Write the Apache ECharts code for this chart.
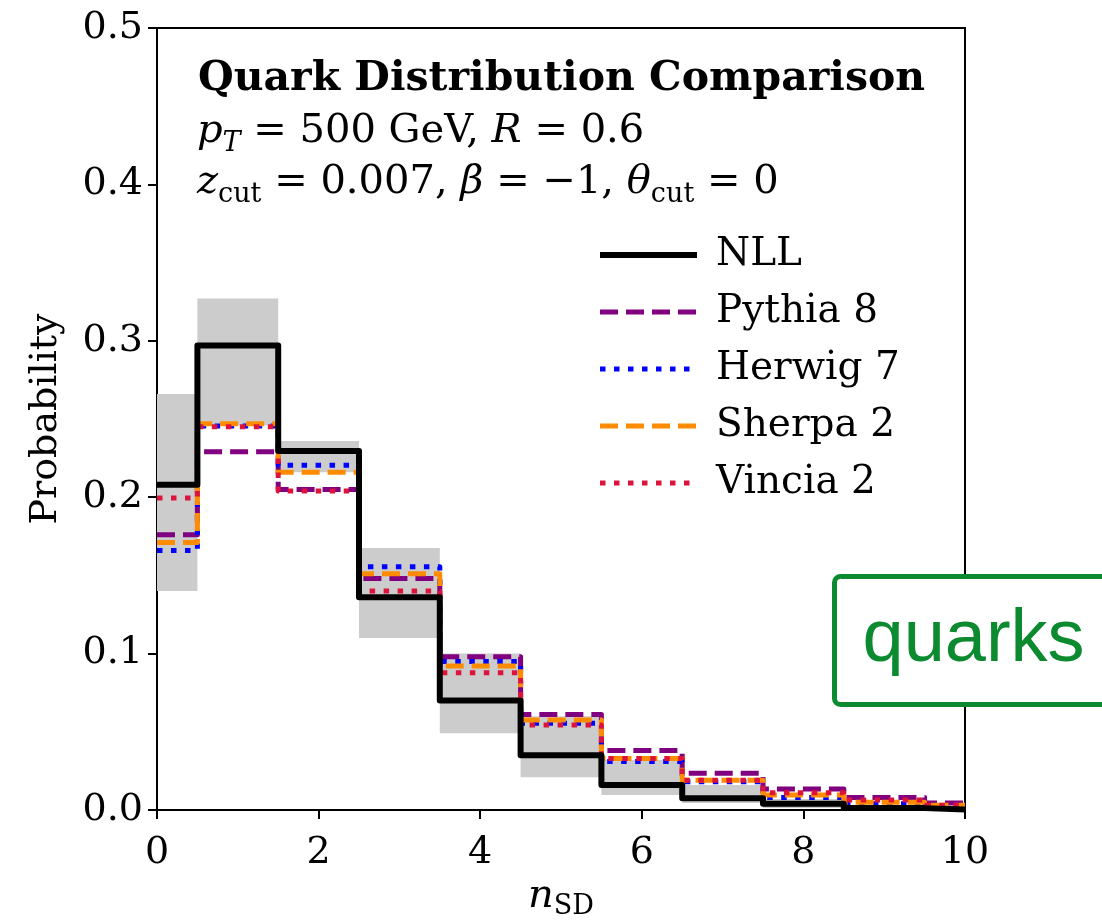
<!DOCTYPE html>
<html>
<head>
<meta charset="utf-8">
<script src="https://cdn.jsdelivr.net/npm/echarts@6/dist/echarts.min.js"></script>
<style>
  html, body { margin: 0; padding: 0; background: #fff; }
  #chart { width: 1102px; height: 920px; }
</style>
</head>
<body>
<div id="chart"></div>
<script>
// n_SD bins (centres), step edges sit at the half-integers
const nSD = [0, 1, 2, 3, 4, 5, 6, 7, 8, 9, 10];

// NLL prediction and its uncertainty band
const nll      = [0.208, 0.297, 0.2295, 0.136, 0.070, 0.035, 0.016, 0.0075, 0.004, 0.0012, 0.0003];
const bandLow  = [0.140, 0.246, 0.216, 0.110, 0.049, 0.021, 0.0096, 0.0045, 0.0012, 0.0003, 0.0];
const bandHigh = [0.266, 0.327, 0.236, 0.1675, 0.100, 0.060, 0.032, 0.016, 0.007, 0.003, 0.001];

// parton showers
const pythia = [0.176, 0.229, 0.205, 0.148, 0.098, 0.061, 0.038, 0.0235, 0.0134, 0.008, 0.0045];
const herwig = [0.166, 0.2455, 0.2205, 0.1555, 0.095, 0.0555, 0.031, 0.018, 0.008, 0.004, 0.002];
const sherpa = [0.171, 0.247, 0.216, 0.151, 0.092, 0.0575, 0.033, 0.019, 0.0096, 0.005, 0.003];
const vincia = [0.1995, 0.245, 0.204, 0.140, 0.0877, 0.0543, 0.033, 0.019, 0.011, 0.0064, 0.003];

const xTicks = [0, 2, 4, 6, 8, 10];

const SERIF = 'DejaVu Serif';
const chart = echarts.init(document.getElementById('chart'));

function pairs(vals) {
  return nSD.map((x, i) => [x, vals[i]]);
}

function stepSeries(name, vals, color, width, dash, z) {
  return {
    name: name,
    type: 'line',
    step: 'middle',
    data: pairs(vals),
    symbol: 'none',
    z: z,
    lineStyle: { color: color, width: width, type: dash, cap: 'butt', join: 'round' },
    itemStyle: { color: color },
    animation: false
  };
}

// legend entries: line only, no marker
function legendItem(name, width) {
  return { name: name, lineStyle: { width: width }, itemStyle: { opacity: 0 } };
}

chart.setOption({
  animation: false,
  grid: {
    left: 157, right: 137, top: 28, bottom: 110,
    outerBoundsMode: 'none',
    show: true, borderColor: '#000', borderWidth: 2, backgroundColor: 'transparent'
  },
  xAxis: {
    type: 'value', min: 0, max: 10, interval: 2,
    axisLine: { show: true, lineStyle: { color: '#000', width: 2 } },
    axisTick: { show: true, inside: false, length: 9, lineStyle: { color: '#000', width: 2 } },
    axisLabel: { color: '#000', fontFamily: SERIF, fontSize: 38, margin: 24,
      formatter: v => xTicks.includes(v) ? String(v) : '' },
    splitLine: { show: false },
    name: '{i|n}{sub|SD}',
    nameLocation: 'middle', nameGap: 60,
    nameTextStyle: {
      rich: {
        i: { fontFamily: SERIF, fontStyle: 'italic', fontSize: 40, color: '#000', lineHeight: 48 },
        sub: { fontFamily: SERIF, fontSize: 27, color: '#000', lineHeight: 22, verticalAlign: 'bottom' }
      }
    }
  },
  yAxis: {
    type: 'value', min: 0, max: 0.5, interval: 0.1,
    axisLine: { show: true, lineStyle: { color: '#000', width: 2 } },
    axisTick: { show: true, inside: false, length: 9, lineStyle: { color: '#000', width: 2 } },
    axisLabel: { color: '#000', fontFamily: SERIF, fontSize: 38, margin: 14,
      formatter: v => v.toFixed(1) },
    splitLine: { show: false },
    name: 'Probability',
    nameLocation: 'middle', nameGap: 92, nameRotate: 90,
    nameTextStyle: { color: '#000', fontFamily: SERIF, fontSize: 38 }
  },
  legend: {
    orient: 'vertical',
    left: 597, top: 235, padding: 0,
    itemWidth: 97, itemHeight: 2, itemGap: 17,
    textStyle: { color: '#000', fontFamily: SERIF, fontSize: 39, lineHeight: 40, padding: [0, 0, 0, 14] },
    data: [
      legendItem('NLL', 6),
      legendItem('Pythia 8', 5),
      legendItem('Herwig 7', 5),
      legendItem('Sherpa 2', 5),
      legendItem('Vincia 2', 5)
    ]
  },
  series: [
    {
      name: 'band',
      type: 'custom',
      z: 1,
      silent: true,
      data: nSD.map((x, i) => [x, bandLow[i], bandHigh[i]]),
      renderItem: function (params, api) {
        const x = api.value(0);
        const x0 = Math.max(0, x - 0.5);
        const x1 = Math.min(10, x + 0.5);
        const p0 = api.coord([x0, api.value(2)]);
        const p1 = api.coord([x1, api.value(1)]);
        return {
          type: 'rect',
          shape: { x: p0[0], y: p0[1], width: p1[0] - p0[0], height: p1[1] - p0[1] },
          style: { fill: '#cccccc' }
        };
      }
    },
    stepSeries('NLL', nll, '#000000', 6, 'solid', 6),
    stepSeries('Pythia 8', pythia, '#800080', 5, [18, 8], 2),
    stepSeries('Herwig 7', herwig, '#0000ff', 5, [5.5, 8.5], 3),
    stepSeries('Sherpa 2', sherpa, '#ff8c00', 5, [18, 8], 4),
    stepSeries('Vincia 2', vincia, '#dc143c', 5, [5.5, 8.5], 5)
  ],
  graphic: [
    {
      type: 'text', left: 198, top: 59, z: 50,
      style: {
        text: 'Quark Distribution Comparison',
        fontFamily: SERIF, fontWeight: 'bold', fontSize: 41, fill: '#000'
      }
    },
    {
      type: 'text', left: 197, top: 112, z: 50,
      style: {
        text: '{i|p}{sub|T}{n| = 500 GeV, }{i|R}{n| = 0.6}',
        rich: {
          n: { fontFamily: SERIF, fontSize: 40, fill: '#000', lineHeight: 50 },
          i: { fontFamily: SERIF, fontStyle: 'italic', fontSize: 40, fill: '#000', lineHeight: 50 },
          sub: { fontFamily: SERIF, fontStyle: 'italic', fontSize: 27, fill: '#000', lineHeight: 22, verticalAlign: 'bottom' }
        }
      }
    },
    {
      type: 'text', left: 197, top: 163, z: 50,
      style: {
        text: '{i|z}{sub|cut}{n| = 0.007, }{i|β}{n| = −1, }{i|θ}{sub|cut}{n| = 0}',
        rich: {
          n: { fontFamily: SERIF, fontSize: 40, fill: '#000', lineHeight: 50 },
          i: { fontFamily: SERIF, fontStyle: 'italic', fontSize: 40, fill: '#000', lineHeight: 50 },
          sub: { fontFamily: SERIF, fontSize: 27, fill: '#000', lineHeight: 22, verticalAlign: 'bottom' }
        }
      }
    },
    {
      type: 'group', left: 832, top: 574, z: 100,
      children: [
        {
          type: 'rect', z: 100,
          shape: { x: 0, y: 0, width: 300, height: 128, r: 6 },
          style: { fill: '#fff', stroke: '#0b8a2f', lineWidth: 5 }
        },
        {
          type: 'text', z: 101, x: 28, y: 64,
          style: {
            text: 'quarks', fontFamily: 'Liberation Sans', fontSize: 74,
            fill: '#0b8a2f', verticalAlign: 'middle'
          }
        }
      ]
    }
  ]
});
</script>
</body>
</html>
